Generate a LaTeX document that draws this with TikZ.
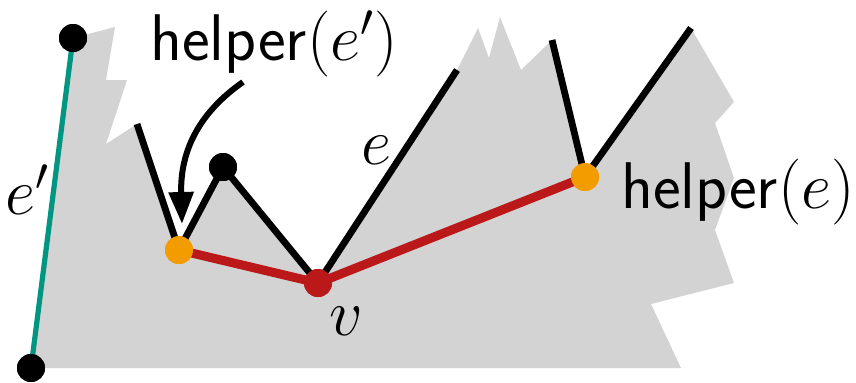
\RequirePackage{fix-cm}
\documentclass[tikz,border=0pt]{standalone}
\usepackage{fontspec}
\usetikzlibrary{arrows.meta}
\definecolor{polygray}{RGB}{211,211,211}
\definecolor{tealc}{RGB}{0,150,130}
\definecolor{redc}{RGB}{187,25,25}
\definecolor{orangec}{RGB}{243,156,0}
\begin{document}
\begin{tikzpicture}[x=0.5pt,y=-0.5pt,
  edge/.style={line width=3.4pt, black, line cap=butt},
  rededge/.style={line width=4.5pt, redc},
  tealedge/.style={line width=2.6pt, tealc},
  blackdot/.style={circle, fill=black, inner sep=0pt, minimum size=14pt},
  orangedot/.style={circle, fill=orangec, inner sep=0pt, minimum size=14pt},
  reddot/.style={circle, fill=redc, inner sep=0pt, minimum size=14pt},
  lbl/.style={inner sep=0pt, font=\fontsize{33}{39}\selectfont},
  pointer/.style={line width=3pt, -{Triangle[length=16pt,width=12pt]}}]
\useasboundingbox (0,0) rectangle (856,382);
% polygon
\fill[polygray] (32,368) -- (73,38) -- (115,27) -- (106,80) -- (127,80) -- (106,144)
  -- (137,124) -- (179,250) -- (223,167) -- (318,283) -- (457,70) -- (478,28)
  -- (489,58) -- (500,17) -- (521,70) -- (552,40) -- (585,177) -- (691,28)
  -- (734,102) -- (715,123) -- (734,178) -- (715,230) -- (734,283) -- (651,304)
  -- (681,368) -- cycle;
% coordinates
\coordinate (a) at (137,124);
\coordinate (b) at (457,70);
\coordinate (c) at (552,40);
\coordinate (d) at (691,28);
\coordinate (as) at (243,82);
% vertices
\node[blackdot] (top) at (73,38) {};
\node[blackdot] (bot) at (31,368) {};
\node[blackdot] (p) at (223,167) {};
\node[orangedot] (h1) at (179,250) {};
\node[orangedot] (h2) at (585,177) {};
\node[reddot] (v) at (318,283) {};
% edges
\draw[tealedge] (bot.center) -- (top.center);
\draw[edge] (a) -- (h1.center) -- (p.center) -- (v.center) -- (b);
\draw[edge] (c) -- (h2.center) -- (d);
\draw[rededge] (h1.center) -- (v.center) -- (h2.center);
% redraw dots on top
\node[orangedot] at (h1) {};
\node[orangedot] at (h2) {};
\node[reddot] at (v) {};
\node[blackdot] at (top) {};
\node[blackdot] at (bot) {};
\node[blackdot] at (p) {};
% labels
\node[lbl, anchor=base west] (lh1) at (150,60) {\sffamily helper$(e')$};
\node[lbl, anchor=base west] (lh2) at (621,208) {\sffamily helper$(e)$};
\node[lbl] (le) at (376,150) {$e$};
\node[lbl] (lv) at (346,321) {$v$};
\node[lbl] (lep) at (27,190) {$e'$};
% arrow
\coordinate (at) at (182,224);
\draw[pointer] (as) .. controls (200,112) and (180,150) .. (at);
\end{tikzpicture}
\end{document}
